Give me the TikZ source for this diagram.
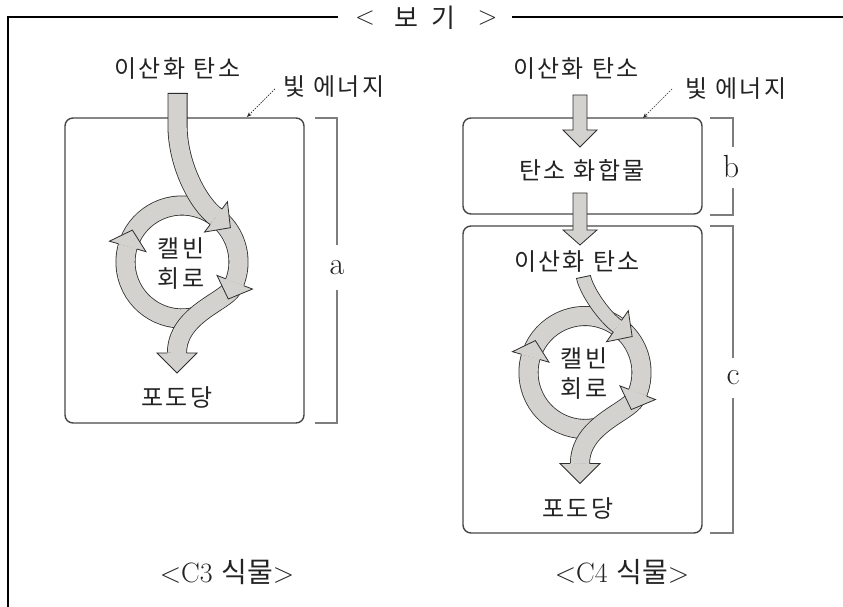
\documentclass[tikz,border=0pt]{standalone}
\usepackage{fontspec}
\newfontfamily\krfont{Noto Sans CJK KR}[LetterSpace=10]
\newfontfamily\krtitle{Noto Sans CJK KR}
\usetikzlibrary{calc,arrows.meta}
\definecolor{arrgray}{RGB}{212,210,207}
\definecolor{edgec}{RGB}{45,45,45}
\definecolor{boxc}{RGB}{70,70,70}
\definecolor{brc}{RGB}{125,125,125}
\definecolor{txt}{RGB}{35,35,35}
\newcommand\fathead[4]{\filldraw[headst] ($(#1)!#3!90:(#2)$) -- ($(#1)!#4!90:(#2)$) -- (#2) -- ($(#1)!#4!-90:(#2)$) -- ($(#1)!#3!-90:(#2)$);}
\newcommand\calvinring[1]{%
  \draw[fatbody] ($(#1)+(160:56.5)$) arc[start angle=160, end angle=-21, radius=56.5];
  \draw[fatbody] ($(#1)+(-75:56.5)$) arc[start angle=-75, end angle=-196, radius=56.5];
  \coordinate (#1lb) at ($(#1)+(-196:56.5)$);
  \coordinate (#1lt) at ($(#1lb)!17pt!90:(#1)$);
  \fathead{#1lb}{#1lt}{9.6pt}{19pt}
  \draw[fatbody] ($(#1)+(49.9,-26.5)$) .. controls ($(#1)+(42.9,-39.7)$) and ($(#1)+(-5,-53)$) .. ($(#1)+(-5,-91)$);
  \coordinate (#1ob) at ($(#1)+(-5,-91)$);
  \coordinate (#1ot) at ($(#1)+(-5,-111)$);
  \fathead{#1ob}{#1ot}{9.6pt}{20pt}
  \coordinate (#1rb) at ($(#1)+(-21:56.5)$);
  \coordinate (#1rt) at ($(#1rb)!18pt!90:(#1)$);
  \fathead{#1rb}{#1rt}{9.6pt}{19pt}
}
\begin{document}
\begin{tikzpicture}[x=1pt,y=1pt,
  fatbody/.style={draw=edgec, line width=0.8pt, double=arrgray, double distance=18.4pt, line cap=butt},
  thinbody/.style={draw=edgec, line width=0.8pt, double=arrgray, double distance=13.4pt, line cap=butt},
  headst/.style={fill=arrgray, draw=edgec, line width=0.8pt, line join=miter},
  boxst/.style={draw=boxc, line width=1.4pt, rounded corners=8pt},
  brst/.style={draw=brc, line width=1.4pt},
  kr/.style={font=\krfont\fontsize{24}{30}\selectfont, text=txt, inner sep=0pt, align=center},
  lab/.style={font=\fontsize{32}{36}\selectfont, text=txt, inner sep=0pt},
  capst/.style={font=\fontsize{28}{32}\selectfont, text=txt, inner sep=0pt},
  ttl/.style={font=\fontsize{26}{30}\selectfont, text=txt, inner sep=0pt},
  light/.style={draw=edgec, line width=0.7pt, dash pattern=on 1.5pt off 1.2pt, -{Stealth[length=5pt,width=4pt]}},
]
\useasboundingbox (0,0) rectangle (843,607);
% frame
\draw[line width=2pt] (338,589.5) -- (7.5,589.5) -- (7.5,0);
\draw[line width=2pt] (512,589.5) -- (843,589.5);
\node[ttl] (t1) at (365,589) {<};
\node[ttl,font=\krtitle\fontsize{26}{30}\selectfont] (t2) at (406.5,589) {보};
\node[ttl,font=\krtitle\fontsize{26}{30}\selectfont] (t3) at (443.5,589) {기};
\node[ttl] (t4) at (487.5,589) {>};
% boxes
\draw[boxst] (65,184) rectangle (304,489);
\draw[boxst] (463,393) rectangle (702,489);
\draw[boxst] (463,74) rectangle (702,381);
% brackets
\draw[brst] (315,489) -- (337,489) -- (337,362);
\draw[brst] (337,317) -- (337,184) -- (315,184);
\node[lab] (la) at (337,339) {a};
\draw[brst] (710,489) -- (733,489) -- (733,460);
\draw[brst] (733,419) -- (733,392) -- (710,392);
\node[lab] (lb) at (731,440) {b};
\draw[brst] (710,381) -- (733,381) -- (733,249);
\draw[brst] (733,209) -- (733,74) -- (710,74);
\node[lab] (lc) at (733,229) {c};
% texts
\node[kr] (co2l) at (177.5,538) {이산화\hspace{0.35em}탄소};
\node[kr] (co2r) at (576,538) {이산화\hspace{0.35em}탄소};
\node[kr] (lel) at (334,520) {빛\hspace{0.3em}에너지};
\node[kr] (ler) at (736,518) {빛\hspace{0.3em}에너지};
\node[kr] (comp) at (582,437) {탄소\hspace{0.35em}화합물};
\node[kr] (co2c) at (577,345) {이산화\hspace{0.35em}탄소};
\node[kr] (glul) at (177,210) {포도당};
\node[kr] (glur) at (578,99) {포도당};
\node[capst] (c3lab) at (227,35) {<C3 {\krtitle 식물}>};
\node[capst] (c4lab) at (622,35) {<C4 {\krtitle 식물}>};
% light arrows
\coordinate (l1s) at (275,518); \coordinate (l1e) at (247,490);
\coordinate (l2s) at (672,518); \coordinate (l2e) at (643,489);
\draw[light] (l1s) -- (l1e);
\draw[light] (l2s) -- (l2e);
% C3 cycle
\coordinate (c3) at (182,345);
\calvinring{c3}
\node[kr] (cc3) at ($(c3)+(-1,-2)$) {캘빈\\회로};
\coordinate (c3is) at ($(c3)+(-4.5,169)$);
\coordinate (c3ib) at ($(c3)+(53:56.5)$);
\coordinate (c3it) at ($(c3ib)!18pt!90:(c3)$);
\draw[fatbody] (c3is) -- ($(c3)+(-4.5,137)$) .. controls ($(c3)+(-4.5,97)$) and ($(c3)+(16.4,58.3)$) .. (c3ib);
\draw[edgec, line width=0.8pt] ($(c3is)+(-10,0)$) -- ($(c3is)+(10,0)$);
\fathead{c3ib}{c3it}{9.6pt}{19pt}
% C4 straight arrows
\filldraw[headst] (573,512) -- (573,477) -- (563,477) -- (580,460) -- (597,477) -- (587,477) -- (587,512) -- cycle;
\filldraw[headst] (573,414) -- (573,377) -- (563,377) -- (580,362) -- (597,377) -- (587,377) -- (587,414) -- cycle;
% C4 cycle
\coordinate (c4) at (585,234.5);
\calvinring{c4}
\node[kr] (cc4) at ($(c4)+(-1,-1.5)$) {캘빈\\회로};
\coordinate (c4is) at ($(c4)+(-1.5,95.5)$);
\coordinate (c4ic) at ($(c4)+(1.5,80.8)$);
\coordinate (c4ib) at ($(c4)+(55:56.5)$);
\coordinate (c4it) at ($(c4ib)!18pt!90:(c4)$);
\draw[thinbody] (c4is) .. controls (c4ic) and ($(c4)+(20.1,54.9)$) .. (c4ib);
\draw[edgec, line width=0.8pt] ($(c4is)!7.5pt!90:(c4ic)$) -- ($(c4is)!7.5pt!-90:(c4ic)$);
\fathead{c4ib}{c4it}{7.1pt}{19pt}
\end{tikzpicture}
\end{document}
